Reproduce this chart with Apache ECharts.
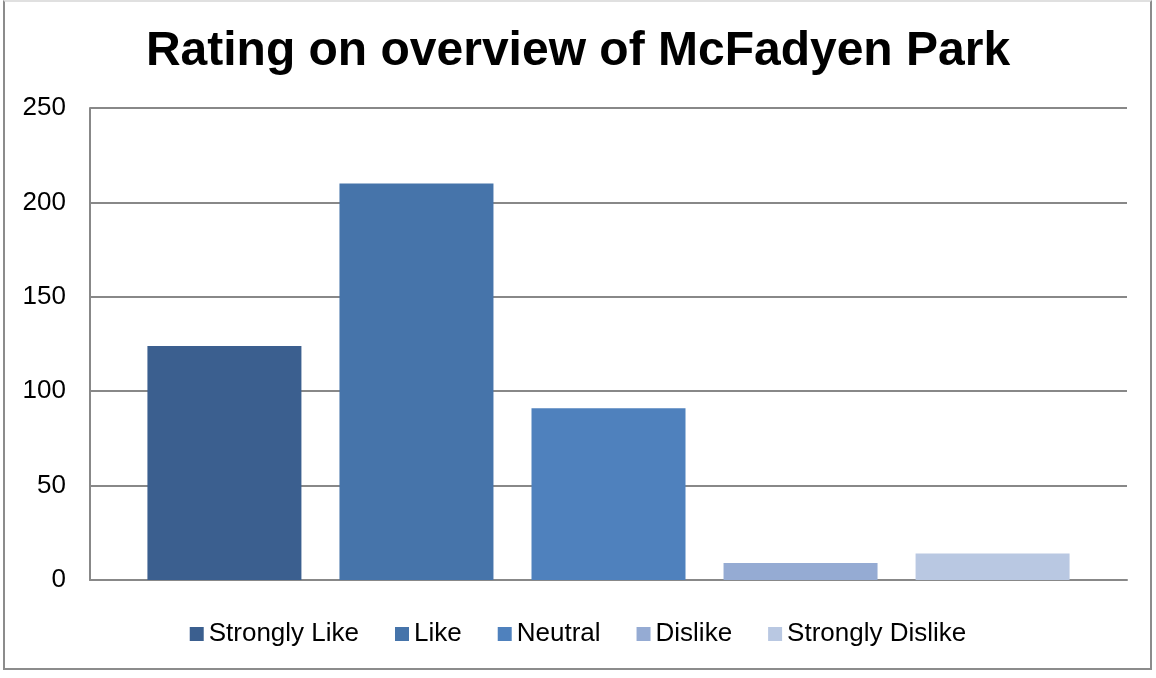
<!DOCTYPE html>
<html>
<head>
<meta charset="utf-8">
<script src="https://cdn.jsdelivr.net/npm/echarts@6/dist/echarts.min.js"></script>
<style>
	html, body { margin: 0; padding: 0; background: #fff; }
	#frame {
		position: absolute; left: 3px; top: 0px; width: 1149px; height: 670px;
		border: 2px solid #8c8c8c; border-top-color: #e0e0e0; box-sizing: border-box;
	}
	#chart { position: absolute; left: 0; top: 0; width: 1156px; height: 678px; }
</style>
</head>
<body>
<div id="frame"></div>
<div id="chart"></div>
<script>
const titleText = 'Rating on overview of McFadyen Park';
const ratings = ['Strongly Like', 'Like', 'Neutral', 'Dislike', 'Strongly Dislike'];
const counts = [124, 210, 91, 9, 14];
const colors = ['#3b5f8f', '#4674aa', '#4f81bd', '#95abd3', '#b9c8e2'];
const yTicks = [0, 50, 100, 150, 200, 250];

let myChart = echarts.init(document.getElementById('chart'), null, { renderer: 'canvas' });

let series = ratings.map(function (name, i) {
	return {
		name: name,
		type: 'bar',
		data: [counts[i]],
		barWidth: 154,
		barGap: '24.7%',
		itemStyle: { color: colors[i] }
	};
});

myChart.setOption({
	animation: false,
	title: {
		text: titleText,
		left: 'center',
		top: 23,
		textStyle: {
			fontFamily: 'Liberation Sans, Arial',
			fontWeight: 'bold',
			fontSize: 48,
			color: '#000'
		}
	},
	legend: {
		bottom: 26,
		left: 'center',
		itemWidth: 14,
		itemHeight: 14,
		itemGap: 36,
		icon: 'rect',
		textStyle: {
			fontFamily: 'Liberation Sans, Arial',
			fontSize: 26,
			color: '#000'
		},
		data: ratings
	},
	grid: {
		left: 90,
		right: 29,
		top: 108,
		bottom: 98,
		containLabel: false
	},
	xAxis: {
		type: 'category',
		data: [''],
		axisLine: { show: true, lineStyle: { color: '#888', width: 2 } },
		axisTick: { show: false },
		axisLabel: { show: false }
	},
	yAxis: {
		type: 'value',
		min: yTicks[0],
		max: yTicks[yTicks.length - 1],
		interval: 50,
		axisLine: { show: true, lineStyle: { color: '#888', width: 2 } },
		axisTick: { show: false },
		axisLabel: {
			margin: 24,
			fontFamily: 'Liberation Sans, Arial',
			fontSize: 26,
			color: '#000'
		},
		splitLine: { show: true, lineStyle: { color: '#888', width: 2 } }
	},
	series: series
});
</script>
</body>
</html>
